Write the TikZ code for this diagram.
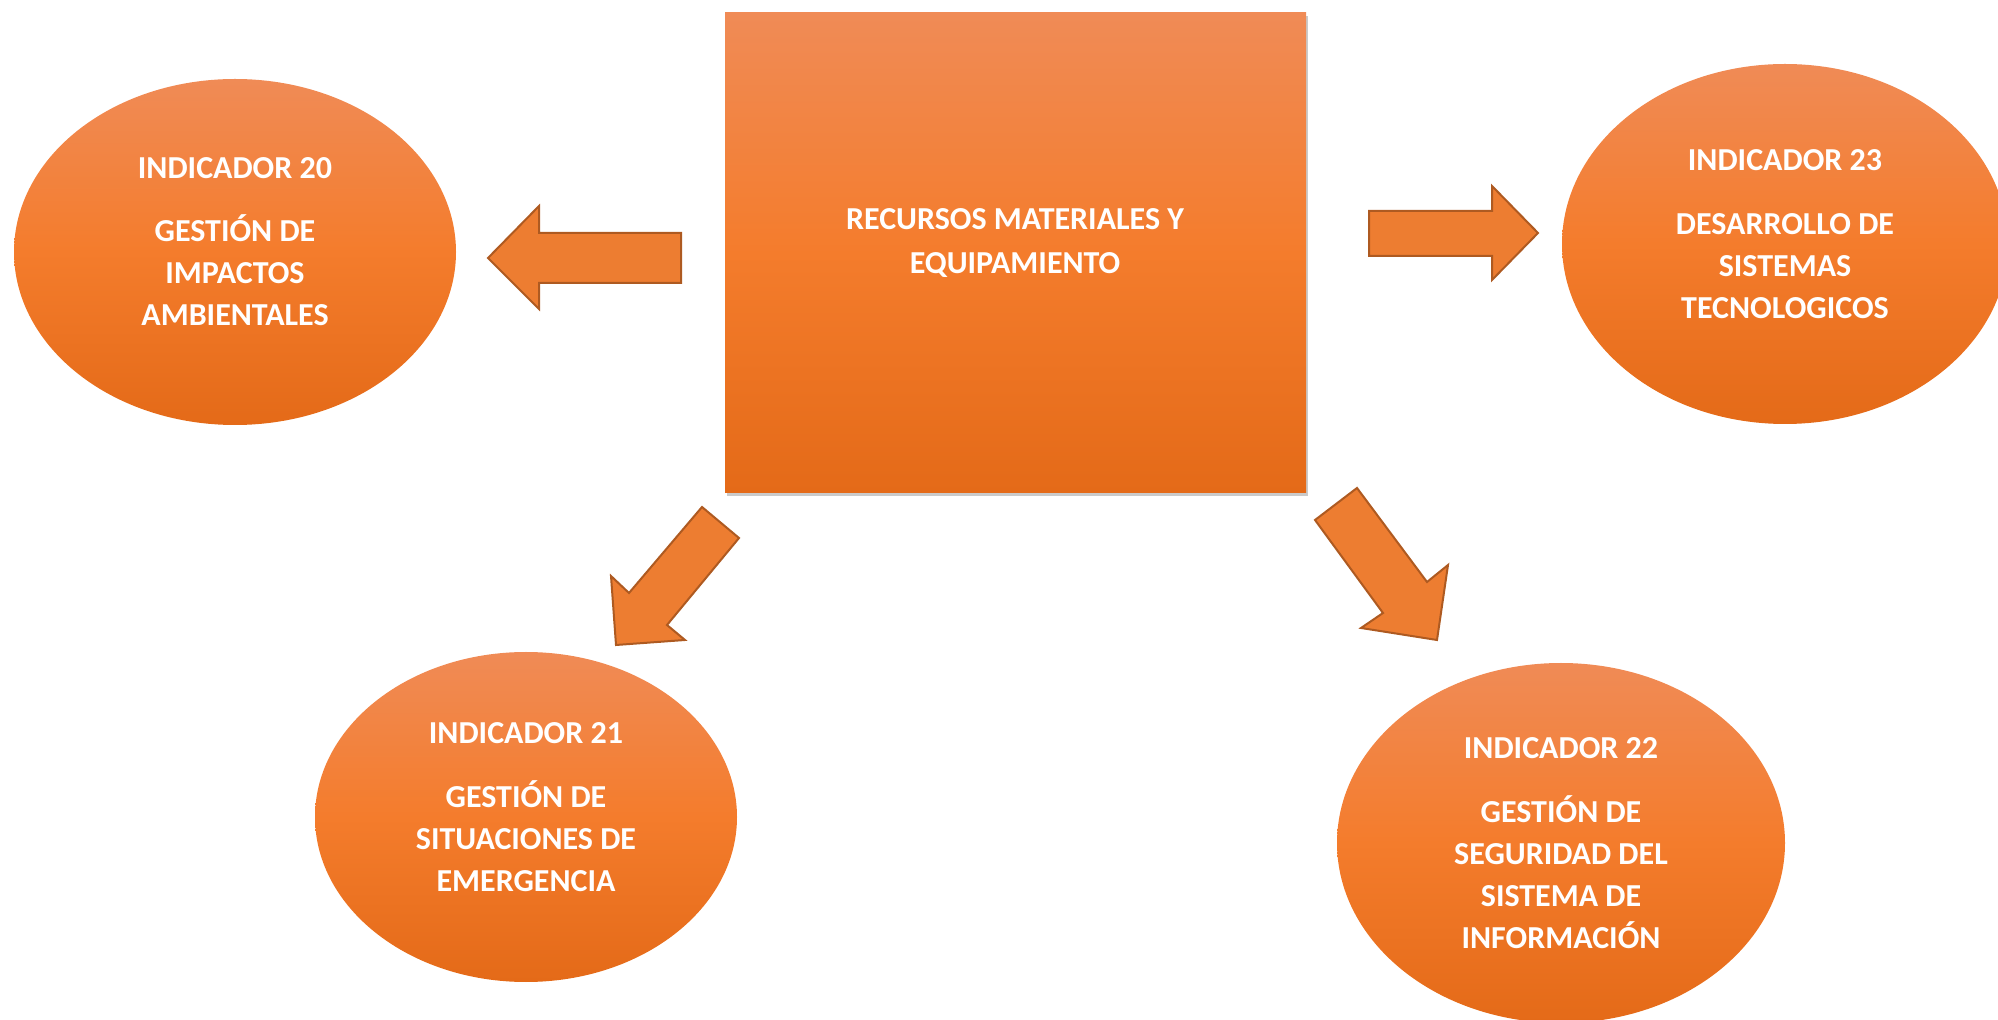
\documentclass[tikz,border=0pt]{standalone}
\usepackage{fontspec}
\setmainfont{Carlito}
\usetikzlibrary{shapes.geometric,shadows}
\definecolor{ortop}{HTML}{F08B56}
\definecolor{ormid}{HTML}{F47C2C}
\definecolor{orbot}{HTML}{E46A18}
\definecolor{arrfill}{HTML}{ED7D31}
\definecolor{arrline}{HTML}{AE5A21}
\begin{document}
\begin{tikzpicture}[x=0.5pt,y=-0.5pt,
  grad/.style={top color=ortop, bottom color=orbot, middle color=ormid, draw=none},
  oval/.style={grad, ellipse, inner sep=0pt},
  txt/.style={text=white, font=\fontsize{16pt}{21pt}\selectfont\bfseries, align=center, inner sep=0pt},
  blockarrow/.style={fill=arrfill, draw=arrline, line width=1pt, line join=miter}]
\useasboundingbox (0,0) rectangle (1998,1020);
\clip (0,0) rectangle (1998,1020);

% central box
\node[grad, rectangle, minimum width=290.5pt, minimum height=240pt, inner sep=0pt,
  drop shadow={shadow xshift=0.8pt, shadow yshift=-1.5pt, opacity=0.35, fill=black!60}] (rm) at (1015.5,253) {};
\node[txt, font=\fontsize{16pt}{22.3pt}\selectfont\bfseries] (trm) at (1015,243) {RECURSOS MATERIALES Y\\EQUIPAMIENTO};

% ellipses
\node[oval, minimum width=221pt, minimum height=173pt] (e20) at (235,252) {};
\node[oval, minimum width=223pt, minimum height=180pt] (e23) at (1785,244) {};
\node[oval, minimum width=211pt, minimum height=165pt] (e21) at (526,817) {};
\node[oval, minimum width=224pt, minimum height=180pt] (e22) at (1561,843) {};

\node[txt] (t20) at ([yshift=5.25pt]e20.center) {INDICADOR 20\\[10.75pt]GESTIÓN DE\\IMPACTOS\\AMBIENTALES};
\node[txt] (t23) at ([yshift=5pt]e23.center) {INDICADOR 23\\[10.75pt]DESARROLLO DE\\SISTEMAS\\TECNOLOGICOS};
\node[txt] (t21) at ([yshift=5pt]e21.center) {INDICADOR 21\\[10.75pt]GESTIÓN DE\\SITUACIONES DE\\EMERGENCIA};
\node[txt] (t22) at ([yshift=0pt]e22.center) {INDICADOR 22\\[10.75pt]GESTIÓN DE\\SEGURIDAD DEL\\SISTEMA DE\\INFORMACIÓN};

% block arrows
\draw[blockarrow] (488,258) -- (539,206) -- (539,233) -- (681,233) -- (681,283) -- (539,283) -- (539,309) -- cycle;
\draw[blockarrow] (1538,233) -- (1492,186) -- (1492,211) -- (1369,211) -- (1369,256) -- (1492,256) -- (1492,280) -- cycle;
\draw[blockarrow] (616,645) -- (611,576) -- (629,593) -- (702,507) -- (739,538) -- (667,625) -- (685,640) -- cycle;
\draw[blockarrow] (1437,640) -- (1448,565) -- (1427,582) -- (1357,488) -- (1315,520) -- (1383,613) -- (1361,628) -- cycle;
\end{tikzpicture}
\end{document}
